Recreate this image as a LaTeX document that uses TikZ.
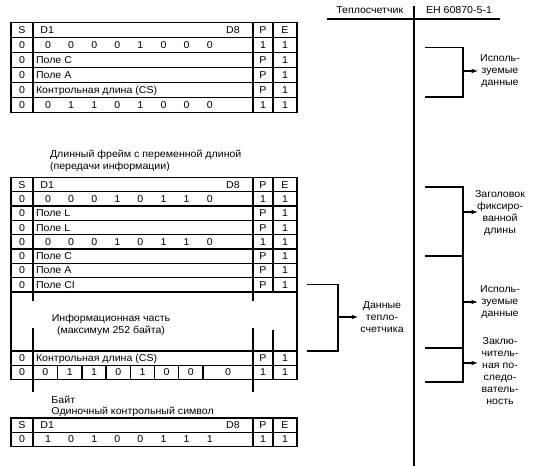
\documentclass[tikz,border=0pt]{standalone}
\usepackage{fontspec}
\setmainfont{Liberation Sans}[FakeStretch=1.06]
\usetikzlibrary{arrows.meta}
\newcommand\bitsrow[3]{%
  \foreach \b [count=\i] in {#3} {
    \node[txt] (#1b\i) at ({48+23.1*(\i-1)}, #2+3.5) {\b};
  }%
}
\newcommand\spe[5]{%
  \node[txt] (#1s) at (22,#2+3.5) {#3};
  \node[txt] (#1p) at (263,#2+3.5) {#4};
  \node[txt] (#1e) at (285,#2+3.5) {#5};
}
\begin{document}
\begin{tikzpicture}[x=1pt,y=-1pt,
  every node/.style={inner sep=0pt,outer sep=0pt},
  txt/.style={font=\fontsize{10}{12}\selectfont, anchor=base},
  ltxt/.style={txt, anchor=base west},
  grid/.style={line width=1.3pt},
  thin/.style={line width=1.1pt},
  axis/.style={line width=1.8pt},
  arr/.style={thin,-{Latex[length=6.5pt,width=4.5pt]}},
  note/.style={font=\fontsize{10}{12}\selectfont, align=center, anchor=center}
]
\useasboundingbox (0,0) rectangle (542,466);

% ---------- Table 1 ----------
\draw[grid] (11,22.5) rectangle (297,112.5);
\foreach \y in {37.5,52.5,67.5,82.5,97.5} \draw[grid] (11,\y) -- (297,\y);
\foreach \x in {33,253,273} \draw[grid] (\x,22.5) -- (\x,112.5);
\spe{a1}{30}{S}{P}{E}
\node[ltxt] (a1d1) at (40.5,33.5) {D1};
\node[txt] (a1d8) at (233,33.5) {D8};
\spe{a2}{45}{0}{1}{1}
\bitsrow{a2}{45}{0,0,0,0,1,0,0,0}
\spe{a3}{60}{0}{P}{1}
\node[ltxt] (a3t) at (36,63.5) {Поле C};
\spe{a4}{75}{0}{P}{1}
\node[ltxt] (a4t) at (36,78.5) {Поле A};
\spe{a5}{90}{0}{P}{1}
\node[ltxt] (a5t) at (36,93.5) {Контрольная длина (CS)};
\spe{a6}{105}{0}{1}{1}
\bitsrow{a6}{105}{0,1,1,0,1,0,0,0}

% ---------- Table 2 ----------
\node[txt, anchor=north west, align=left, font=\fontsize{10}{12.5}\selectfont] (cap2) at (50,150)
  {Длинный фрейм с переменной длиной\\(передачи информации)};
\draw[grid] (11,177.5) rectangle (297,379.6);
\foreach \y in {191.8,206.1,220.4,234.7,249,263.3,277.6,291.9,351,365.3}
  \draw[grid] (11,\y) -- (297,\y);
\foreach \x in {33,253,273} {
  \draw[grid] (\x,177.5) -- (\x,291.9);
  \draw[grid] (\x,351) -- (\x,379.6);
}
\draw[grid] (33,291.9) -- (33,300.5);
\draw[grid] (253,291.9) -- (253,300.5);
\draw[grid] (33,328) -- (33,351);
\draw[grid] (253,328) -- (253,351);
\draw[grid] (273,330) -- (273,351);
\foreach \x in {57.5,82,106,130.5,154.5,178.5,203}
  \draw[grid] (\x,365.3) -- (\x,379.6);
\spe{b1}{184.65}{S}{P}{E}
\node[ltxt] (b1d1) at (40.5,188.15) {D1};
\node[txt] (b1d8) at (233,188.15) {D8};
\spe{b2}{198.95}{0}{1}{1}
\bitsrow{b2}{198.95}{0,0,0,1,0,1,1,0}
\spe{b3}{213.25}{0}{P}{1}
\node[ltxt] (b3t) at (36,216.75) {Поле L};
\spe{b4}{227.55}{0}{P}{1}
\node[ltxt] (b4t) at (36,231.05) {Поле L};
\spe{b5}{241.85}{0}{1}{1}
\bitsrow{b5}{241.85}{0,0,0,1,0,1,1,0}
\spe{b6}{256.15}{0}{P}{1}
\node[ltxt] (b6t) at (36,259.65) {Поле C};
\spe{b7}{270.45}{0}{P}{1}
\node[ltxt] (b7t) at (36,273.95) {Поле A};
\spe{b8}{284.75}{0}{P}{1}
\node[ltxt] (b8t) at (36,288.25) {Поле CI};
\node[note] (info) at (111,324.5) {Информационная часть\\(максимум 252 байта)};
\spe{b9}{358.15}{0}{P}{1}
\node[ltxt] (b9t) at (36,361.65) {Контрольная длина (CS)};
\spe{b10}{372.45}{0}{1}{1}
\foreach \b/\x [count=\i] in {0/45.3,1/69.8,1/94,0/118.3,1/142.5,0/166.5,0/190.8,0/228}
  \node[txt] (b10b\i) at (\x,375.95) {\b};
\draw[grid] (33,379.6) -- (33,392);
\draw[grid] (253,379.6) -- (253,392);
\node[ltxt] (bajt) at (51.5,403) {Байт};
\node[ltxt] (single) at (51.5,414) {Одиночный контрольный символ};

% ---------- Table 3 ----------
\draw[grid] (11,418) rectangle (297,446.6);
\draw[grid] (11,432.3) -- (297,432.3);
\foreach \x in {33,253,273} \draw[grid] (\x,418) -- (\x,446.6);
\spe{c1}{425.15}{S}{P}{E}
\node[ltxt] (c1d1) at (40.5,428.65) {D1};
\node[txt] (c1d8) at (233,428.65) {D8};
\spe{c2}{439.45}{0}{1}{1}
\bitsrow{c2}{439.45}{1,0,1,0,0,1,1,1}

% ---------- Right part ----------
\node[txt] (h1) at (369.7,13.5) {Теплосчетчик};
\node[txt] (h2) at (459,13.5) {ЕН 60870-5-1};
\draw[grid] (327,19) -- (500,19);
\draw[axis] (414,6) -- (414,466);

% Данные теплосчетчика
\node[note] (dt) at (382,317) {Данные\\тепло-\\счетчика};
\draw[thin] (307,284.75) -- (338,284.75) -- (338,351) -- (307,351);
\coordinate (dtm) at (338,317);
\draw[arr] (dtm) -- ([xshift=-2pt]dt.west);

% bracket 1
\node[note] (u1) at (500,71) {Исполь-\\зуемые\\данные};
\draw[thin] (425,47.5) -- (463,47.5) -- (463,97) -- (425,97);
\coordinate (u1m) at (463,71);
\draw[arr] (u1m) -- ([xshift=-2pt]u1.west);

% brackets 2-4
\draw[thin] (425,187) -- (463,187) -- (463,382) -- (425,382);
\draw[thin] (425,256) -- (463,256);
\draw[thin] (425,348) -- (463,348);
\node[note] (u2) at (500,213) {Заголовок\\фиксиро-\\ванной\\длины};
\node[note] (u3) at (500,302) {Исполь-\\зуемые\\данные};
\node[note] (u4) at (500,371) {Заклю-\\читель-\\ная по-\\следо-\\ватель-\\ность};
\coordinate (u2m) at (463,212);
\coordinate (u3m) at (463,302);
\coordinate (u4m) at (463,363);
\draw[arr] (u2m) -- (478,212);
\draw[arr] (u3m) -- (478,302);
\draw[arr] (u4m) -- (478,363);
\end{tikzpicture}
\end{document}
